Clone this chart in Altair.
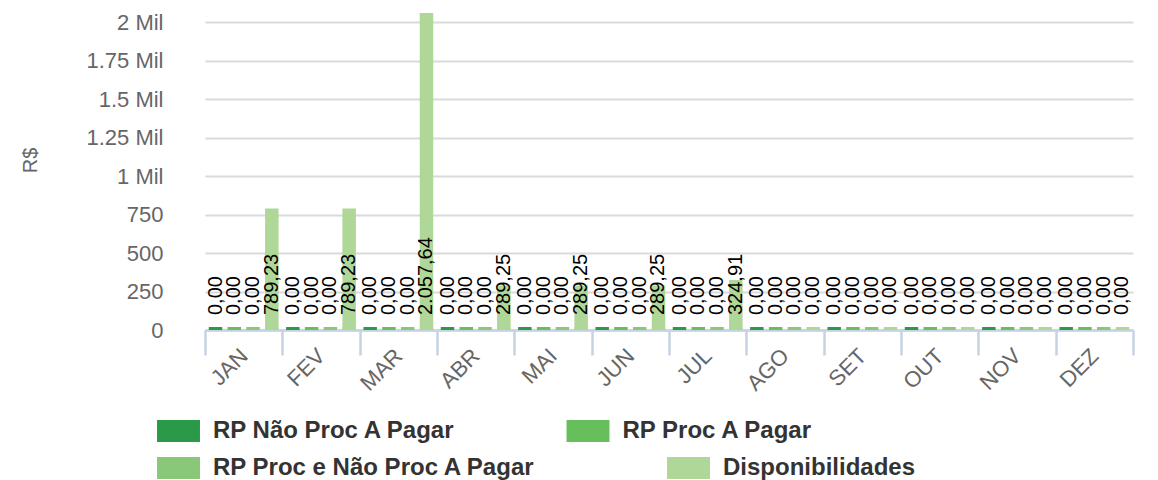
import altair as alt
import pandas as pd

meses = ["JAN", "FEV", "MAR", "ABR", "MAI", "JUN", "JUL", "AGO", "SET", "OUT", "NOV", "DEZ"]
series = ["RP Não Proc A Pagar", "RP Proc A Pagar", "RP Proc e Não Proc A Pagar", "Disponibilidades"]
cores = ["#2b9a48", "#66bf5a", "#88c878", "#afd898"]

rp_nao_proc = [0, 0, 0, 0, 0, 0, 0, 0, 0, 0, 0, 0]
rp_proc = [0, 0, 0, 0, 0, 0, 0, 0, 0, 0, 0, 0]
rp_proc_nao_proc = [0, 0, 0, 0, 0, 0, 0, 0, 0, 0, 0, 0]
disponibilidades = [789.23, 789.23, 2057.64, 289.25, 289.25, 289.25, 324.91, 0, 0, 0, 0, 0]

y_ticks = [0, 250, 500, 750, 1000, 1250, 1500, 1750, 2000]


def fmt_br(v):
    s = f"{v:,.2f}"
    return s.replace(",", "X").replace(".", ",").replace("X", ".")


rows = []
for serie, vals in zip(series, [rp_nao_proc, rp_proc, rp_proc_nao_proc, disponibilidades]):
    for m, v in zip(meses, vals):
        rows.append({"mes": m, "serie": serie, "valor": v, "rotulo": fmt_br(v)})
df = pd.DataFrame(rows)

FONT = "Liberation Sans"

x_axis = alt.Axis(
    title=None,
    labelAngle=315,
    labelAlign="right",
    labelBaseline="middle",
    labelFontSize=22,
    labelColor="#666666",
    labelFont=FONT,
    labelPadding=-3,
    domainColor="#c5d3e3",
    domainWidth=2.5,
    tickColor="#c5d3e3",
    tickWidth=2.5,
    tickSize=25,
    tickBand="extent",
    grid=False,
)
x_scale = alt.Scale(paddingInner=0, paddingOuter=0)
x_enc = alt.X("mes:N", sort=meses, scale=x_scale, axis=x_axis)
xoff_enc = alt.XOffset(
    "serie:N", sort=series,
    scale=alt.Scale(domain=series, paddingInner=0.28, paddingOuter=0.2),
)
y_scale = alt.Scale(domain=[0, 2000], nice=False)

y_axis = alt.Axis(
    title="R$",
    values=y_ticks,
    labelExpr="datum.value >= 1000 ? (datum.value / 1000) + ' Mil' : datum.value",
    labelFontSize=22,
    labelColor="#666666",
    labelFont=FONT,
    labelPadding=42,
    labelOverlap=False,
    ticks=False,
    domain=False,
    gridColor="#dadada",
    gridWidth=2,
    titleFontSize=20,
    titleFontWeight="normal",
    titleColor="#666666",
    titleFont=FONT,
    titleAngle=270,
    titleAlign="center",
    titleBaseline="middle",
    titleX=-175,
    titleY=138,
)
y_enc = alt.Y("valor:Q", scale=y_scale, axis=y_axis)
y_zero = alt.Y(datum=0, type="quantitative", scale=y_scale, axis=y_axis)


def legend_row(y, col_pad):
    return alt.Legend(
        title=None,
        orient="none",
        legendX=-38.5,
        legendY=y,
        direction="horizontal",
        columnPadding=col_pad,
        symbolType="M-1.79,-0.92H1.79V0.92H-1.79Z",
        symbolSize=576,
        symbolStrokeWidth=0,
        symbolOpacity=1,
        labelOffset=22.5,
        labelFontSize=24,
        labelFontWeight="bold",
        labelColor="#333333",
        labelFont=FONT,
        labelLimit=0,
        padding=0,
    )


base = alt.Chart(df)

row1 = series[:2]
row2 = series[2:]

bars_a = base.transform_filter(alt.FieldOneOfPredicate(field="serie", oneOf=row1)).mark_bar().encode(
    x=x_enc,
    xOffset=xoff_enc,
    y=y_enc,
    color=alt.Color(
        "serie:N", sort=row1,
        scale=alt.Scale(domain=row1, range=cores[:2]),
        legend=legend_row(397, 109.5),
    ),
)

bars_b = base.transform_filter(alt.FieldOneOfPredicate(field="serie", oneOf=row2)).mark_bar().encode(
    x=x_enc,
    xOffset=xoff_enc,
    y=y_enc,
    color=alt.Color(
        "serie:N", sort=row2,
        scale=alt.Scale(domain=row2, range=cores[2:]),
        legend=legend_row(434, 130),
    ),
)

stubs = base.mark_tick(thickness=3, size=13.5, yOffset=-1.5, opacity=1).encode(
    x=x_enc,
    xOffset=xoff_enc,
    y=y_zero,
    color=alt.Color("serie:N", sort=series, scale=alt.Scale(domain=series, range=cores), legend=None),
)

labels = base.mark_text(
    angle=270, align="left", baseline="middle", dx=15, fontSize=20, font=FONT, color="#000000"
).encode(
    x=x_enc,
    xOffset=xoff_enc,
    y=y_zero,
    text="rotulo:N",
)

chart = (
    alt.layer(bars_a, bars_b, stubs, labels)
    .resolve_scale(color="independent")
    .resolve_legend(color="independent")
    .properties(
        width=928,
        height=308,
        padding={"left": 197, "top": 14, "right": 17, "bottom": 150},
        autosize=alt.AutoSizeParams(type="none"),
    )
    .configure_view(stroke=None)
)

chart.save("out.html", embed_options={"renderer": "svg", "actions": False})
